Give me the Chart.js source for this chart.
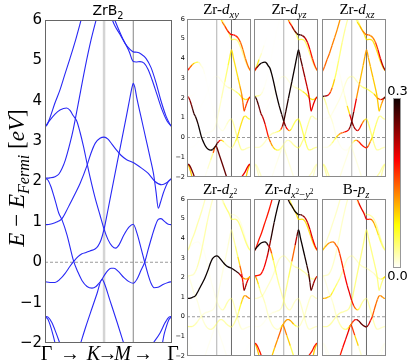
<!DOCTYPE html>
<html><head><meta charset="utf-8">
<script src="https://cdn.jsdelivr.net/npm/chart.js@4.4.1/dist/chart.umd.min.js"></script>
<style>
body{margin:0;background:#fff;}
#wrap{position:relative;width:407px;height:364px;overflow:hidden;background:#fff;}
canvas{position:absolute;}
.t{position:absolute;white-space:nowrap;color:#000;}
.serif{font-family:"Liberation Serif","DejaVu Serif",serif;}
.sans{font-family:"DejaVu Sans",sans-serif;}
.t sub,.t sup{line-height:0;font-size:70%;}
.c{transform:translateX(-50%);}
</style></head>
<body><div id="wrap">
<canvas id="cMain" width="185" height="364" style="left:0;top:0"></canvas>
<canvas id="p0" width="86" height="170" style="left:167px;top:13px"></canvas>
<canvas id="p1" width="68" height="170" style="left:252px;top:13px"></canvas>
<canvas id="p2" width="68" height="170" style="left:320px;top:13px"></canvas>
<canvas id="p3" width="86" height="169" style="left:167px;top:193px"></canvas>
<canvas id="p4" width="68" height="169" style="left:252px;top:193px"></canvas>
<canvas id="p5" width="68" height="169" style="left:320px;top:193px"></canvas>
<canvas id="cbar" width="18" height="195" style="left:388px;top:85px"></canvas>

<div class="t sans c" style="left:108px;top:3px;font-size:14px;line-height:14px">ZrB<sub>2</sub></div>
<div class="t serif" style="left:16px;top:178px;font-size:23px;line-height:23px;transform:translate(-50%,-50%) rotate(-90deg)"><i>E</i> − <i>E</i><sub><i>Fermi</i></sub> [<i>eV</i>]</div>
<div class="t serif c" style="left:46.5px;top:343px;font-size:20px;line-height:20px">Γ</div>
<div class="t serif c" style="left:70px;top:343px;font-size:20px;line-height:20px">→</div>
<div class="t serif c" style="left:93.5px;top:343px;font-size:20px;line-height:20px"><i>K</i></div>
<div class="t serif c" style="left:107.5px;top:343px;font-size:20px;line-height:20px">→</div>
<div class="t serif c" style="left:122.5px;top:343px;font-size:20px;line-height:20px"><i>M</i></div>
<div class="t serif c" style="left:143px;top:343px;font-size:20px;line-height:20px">→</div>
<div class="t serif c" style="left:173px;top:343px;font-size:20px;line-height:20px">Γ</div>

<div class="t serif c" style="left:221px;top:2.4px;font-size:15px;line-height:15px">Zr-<i>d</i><sub><i>xy</i></sub></div>
<div class="t serif c" style="left:289px;top:2.4px;font-size:15px;line-height:15px">Zr-<i>d</i><sub><i>yz</i></sub></div>
<div class="t serif c" style="left:357px;top:2.4px;font-size:15px;line-height:15px">Zr-<i>d</i><sub><i>xz</i></sub></div>
<div class="t serif c" style="left:220px;top:182.4px;font-size:15px;line-height:15px">Zr-<i>d</i><sub><i>z</i><sup>2</sup></sub></div>
<div class="t serif c" style="left:289px;top:182.4px;font-size:15px;line-height:15px">Zr-<i>d</i><sub><i>x</i><sup>2</sup>−<i>y</i><sup>2</sup></sub></div>
<div class="t serif c" style="left:356px;top:182.4px;font-size:15px;line-height:15px">B-<i>p</i><sub><i>z</i></sub></div>

<div class="t sans c" style="left:397.5px;top:83.5px;font-size:13px;line-height:13px">0.3</div>
<div class="t sans c" style="left:397.5px;top:268.5px;font-size:13px;line-height:13px">0.0</div>
</div>
<script>
// ---- path positions (fraction of path length) ----
const pathTicks = [0, 0.465, 0.695, 1];
const pathLabels = ['Γ', 'K', 'M', 'Γ'];
const yTicks = [-2, -1, 0, 1, 2, 3, 4, 5, 6];
const zeroLine = [[0, 0], [1, 0]];

// ---- bands: [k, E - E_Fermi (eV)] ----
const L1 = [[0,3.35],[0.016,3.40],[0.039,3.58],[0.079,3.95],[0.118,4.27],[0.157,4.66],[0.197,5.05],[0.236,5.45],[0.291,6.08]];
const L2 = [[0,3.35],[0.039,3.52],[0.079,3.67],[0.118,3.77],[0.171,3.82],[0.197,3.76],[0.220,3.64],[0.250,3.50],[0.276,3.22],[0.302,2.88],[0.331,2.45],[0.354,2.12],[0.394,1.60],[0.433,1.17],[0.465,0.82],[0.496,0.56],[0.528,0.40],[0.557,0.35],[0.583,0.43],[0.622,0.68],[0.661,0.87],[0.695,0.94],[0.724,0.72],[0.756,0.35],[0.785,0.00],[0.811,-0.30],[0.835,-0.52],[0.858,-0.63],[0.890,-0.62],[0.929,-0.55],[0.969,-0.50],[1,-0.48]];
const G  = [[0,2.08],[0.039,2.09],[0.079,2.12],[0.108,2.18],[0.134,2.32],[0.160,2.53],[0.197,2.95],[0.223,3.30],[0.260,3.90],[0.315,4.81],[0.362,5.50],[0.409,6.08]];
const D  = [[0,0.93],[0.039,0.94],[0.079,0.98],[0.108,1.02],[0.134,1.08],[0.165,1.25],[0.197,1.45],[0.239,1.71],[0.276,1.95],[0.331,2.40],[0.362,2.70],[0.396,2.95],[0.433,3.07],[0.465,3.10],[0.496,3.05],[0.528,2.92],[0.565,2.77],[0.598,2.65],[0.643,2.54],[0.695,2.47],[0.761,2.33],[0.813,2.20],[0.866,2.00],[0.919,1.92],[0.958,1.97],[1,2.08]];
const E  = [[0,2.08],[0.024,2.03],[0.047,1.87],[0.069,1.65],[0.087,1.45],[0.108,1.22],[0.134,1.05],[0.173,0.68],[0.226,0.02],[0.260,-0.25],[0.291,-0.45],[0.331,-0.60],[0.370,-0.64],[0.402,-0.60],[0.425,-0.52],[0.449,-0.42],[0.472,-0.30],[0.496,-0.20],[0.520,-0.15],[0.543,-0.15],[0.575,-0.22],[0.622,-0.38],[0.661,-0.48],[0.695,-0.52],[0.724,-0.42],[0.756,-0.20],[0.785,0.00],[0.811,0.30],[0.843,0.65],[0.866,0.88],[0.892,1.06],[0.913,1.08],[0.945,1.00],[0.971,0.94],[1,0.93]];
const F  = [[0,-0.48],[0.039,-0.50],[0.079,-0.50],[0.118,-0.42],[0.157,-0.28],[0.197,-0.10],[0.226,0.02],[0.260,0.14],[0.291,0.21],[0.323,0.24],[0.354,0.28],[0.394,0.33],[0.417,0.40],[0.441,0.55],[0.465,0.82],[0.496,1.30],[0.538,1.98],[0.591,2.82],[0.643,3.65],[0.669,4.08],[0.685,4.33],[0.695,4.43],[0.706,4.35],[0.724,4.05],[0.756,3.60],[0.795,3.05],[0.827,2.60],[0.854,2.20],[0.874,1.75],[0.892,1.34],[0.909,1.48],[0.931,1.71],[0.971,2.00],[1,2.08]];
const S  = [[0.276,-2.05],[0.323,-1.58],[0.370,-1.14],[0.409,-0.78],[0.449,-0.42],[0.465,-0.50],[0.512,-0.95],[0.567,-1.48],[0.624,-2.05]];
const H1 = [[0.520,6.08],[0.551,5.85],[0.591,5.64],[0.630,5.42],[0.669,5.27],[0.695,5.21],[0.724,5.20],[0.756,5.16],[0.795,5.05],[0.835,4.82],[0.874,4.45],[0.913,4.00],[0.953,3.62],[0.984,3.42],[1,3.35]];
const H2 = [[0.539,6.08],[0.575,5.80],[0.606,5.58],[0.638,5.38],[0.665,5.20],[0.685,5.02],[0.695,4.97],[0.717,4.96],[0.748,4.97],[0.780,4.93],[0.811,4.78],[0.843,4.52],[0.882,4.15],[0.921,3.78],[0.961,3.50],[1,3.35]];
const B1 = [[0,-1.34],[0.024,-1.36],[0.055,-1.50],[0.087,-1.75],[0.122,-2.05]];
const B2 = [[0,-1.34],[0.024,-1.42],[0.047,-1.62],[0.063,-1.80],[0.083,-2.05]];
const B3 = [[0.841,-2.05],[0.906,-1.75],[0.945,-1.50],[0.976,-1.36],[1,-1.34]];
const B4 = [[0.922,-2.05],[0.937,-1.80],[0.953,-1.62],[0.976,-1.42],[1,-1.34]];
const bands = [L1, L2, G, D, E, F, S, H1, H2, B1, B2, B3, B4];

// ---- orbital weights at path nodes, per band (order as in `bands`) ----
const wNodes = [0, 0.1, 0.2, 0.3, 0.4, 0.465, 0.58, 0.695, 0.8, 0.9, 1];
const wDxy = [
 [0,0,0,0,0,0,0,0,0,0,0],
 [.2,.1,.04,.01,.01,.02,.03,.05,.06,.05,.04],
 [.02,.01,0,0,0,0,0,0,0,0,0],
 [.01,.01,.01,.01,.01,.02,.03,.05,.07,.09,.1],
 [.2,.28,.3,.3,.3,.28,.04,.04,.09,.09,.07],
 [.01,.01,.01,.02,.02,.03,.05,.09,.09,.16,.18],
 [0,0,0,.02,.06,.26,.26,.26,0,0,0],
 [0,0,0,0,0,0,.15,.2,.16,.13,.15],
 [0,0,0,0,0,0,.05,.07,.06,.05,.04],
 [.25,.25,.25,.25,.25,.25,.25,.25,.25,.25,.25],
 [.1,.1,.1,.1,.1,.1,.1,.1,.1,.1,.1],
 [.2,.2,.2,.2,.2,.2,.2,.2,.2,.2,.2],
 [.1,.1,.1,.1,.1,.1,.1,.1,.1,.1,.1]];
const wDyz = [
 [.15,.04,0,0,0,0,0,0,0,0,0],
 [.18,.3,.3,.3,.3,.28,.07,.07,.07,.06,.05],
 [.08,.04,.01,.01,.01,0,0,0,0,0,0],
 [.01,.01,.01,.02,.02,.03,.03,.05,.09,.09,.09],
 [.3,.25,.18,.1,.06,.04,.05,.06,.06,.05,.04],
 [.04,.04,.04,.05,.07,.28,.3,.3,.22,.2,.2],
 [0,0,0,.02,.03,.04,.03,.03,0,0,0],
 [0,0,0,0,0,0,.2,.3,.22,.18,.15],
 [0,0,0,0,0,0,.05,.07,.07,.06,.05],
 [.04,.04,.04,.04,.04,.04,.04,.04,.04,.04,.04],
 [.04,.04,.04,.04,.04,.04,.04,.04,.04,.04,.04],
 [.04,.04,.04,.04,.04,.04,.04,.04,.04,.04,.04],
 [.04,.04,.04,.04,.04,.04,.04,.04,.04,.04,.04]];
const wDxz = [
 [.15,.14,.13,.12,.1,0,0,0,0,0,0],
 [.01,.01,.01,.02,.05,.25,.2,.07,.06,.05,.04],
 [.3,.2,.07,.06,.05,.05,0,0,0,0,0],
 [.01,.02,.03,.03,.04,.04,.05,.07,.07,.15,.3],
 [.07,.04,.03,.02,.02,.03,.18,.18,.07,.06,.05],
 [.02,.03,.07,.14,.2,.28,.1,.12,.1,.1,.15],
 [0,0,0,.03,.03,.03,.03,.03,0,0,0],
 [0,0,0,0,0,0,.1,.15,.12,.2,.25],
 [0,0,0,0,0,0,.07,.09,.09,.09,.09],
 [.05,.05,.05,.05,.05,.05,.05,.05,.05,.05,.05],
 [.05,.05,.05,.05,.05,.05,.05,.05,.05,.05,.05],
 [.05,.05,.05,.05,.05,.05,.05,.05,.05,.05,.05],
 [.05,.05,.05,.05,.05,.05,.05,.05,.05,.05,.05]];
const wDz2 = [
 [.05,.05,.05,.04,.03,0,0,0,0,0,0],
 [.02,.02,.02,.02,.02,.03,.05,.05,.04,.03,.03],
 [.04,.04,.05,.05,.04,0,0,0,0,0,0],
 [.3,.3,.3,.3,.3,.3,.3,.3,.28,.12,.1],
 [.03,.03,.03,.04,.05,.05,.05,.05,.06,.12,.14],
 [.06,.05,.04,.03,.03,.03,.03,.04,.07,.25,.15],
 [0,0,0,.02,.02,.02,.02,.02,0,0,0],
 [0,0,0,0,0,0,.03,.03,.03,.03,.03],
 [0,0,0,0,0,0,.06,.06,.06,.06,.06],
 [.01,.01,.01,.01,.01,.01,.01,.01,.01,.01,.01],
 [.01,.01,.01,.01,.01,.01,.01,.01,.01,.01,.01],
 [.01,.01,.01,.01,.01,.01,.01,.01,.01,.01,.01],
 [.01,.01,.01,.01,.01,.01,.01,.01,.01,.01,.01]];
const wDx2y2 = [
 [.18,.18,.18,.18,.18,0,0,0,0,0,0],
 [.3,.3,.3,.07,.05,.05,.04,.04,.04,.04,.04],
 [.18,.18,.2,.3,.3,.3,0,0,0,0,0],
 [.04,.04,.04,.04,.04,.04,.04,.05,.05,.05,.05],
 [.15,.05,.04,.04,.04,.12,.12,.04,.04,.04,.04],
 [.02,.02,.02,.03,.04,.05,.07,.3,.3,.26,.2],
 [0,0,0,.1,.15,.15,.07,.07,0,0,0],
 [0,0,0,0,0,.26,.3,.3,.22,.2,.18],
 [0,0,0,0,0,0,.09,.09,.09,.09,.09],
 [.18,.18,.18,.18,.18,.18,.18,.18,.18,.18,.18],
 [.1,.1,.1,.1,.1,.1,.1,.1,.1,.1,.1],
 [.18,.18,.18,.18,.18,.18,.18,.18,.18,.18,.18],
 [.1,.1,.1,.1,.1,.1,.1,.1,.1,.1,.1]];
const wBpz = [
 [.04,.04,.04,.04,.04,0,0,0,0,0,0],
 [.1,.12,.14,.17,.2,.2,.06,.05,.05,.04,.04],
 [.04,.04,.04,.04,.04,0,0,0,0,0,0],
 [.12,.1,.07,.05,.04,.04,.04,.04,.04,.05,.1],
 [.03,.03,.04,.05,.07,.15,.26,.26,.15,.13,.12],
 [.05,.05,.05,.05,.05,.06,.06,.06,.06,.06,.06],
 [0,0,0,.18,.2,.2,.04,.04,0,0,0],
 [0,0,0,0,0,0,.05,.05,.05,.05,.05],
 [0,0,0,0,0,0,.2,.2,.12,.07,.05],
 [.02,.02,.02,.02,.02,.02,.02,.02,.02,.02,.02],
 [.02,.02,.02,.02,.02,.02,.02,.02,.02,.02,.02],
 [.02,.02,.02,.02,.02,.02,.02,.02,.02,.02,.02],
 [.02,.02,.02,.02,.02,.02,.02,.02,.02,.02,.02]];
const cbarRange = [0, 0.3];
const cbarLabels = ['0.0', '0.3'];

// ---- helpers ----
const W_MAX = cbarRange[1];
function hotR(v) {
  v = Math.max(0, Math.min(1, v));
  const x = 1 - v;
  const r = x >= 0.365 ? 1 : 0.0416 + (1 - 0.0416) * x / 0.365;
  const g = x <= 0.365 ? 0 : (x >= 0.746 ? 1 : (x - 0.365) / 0.381);
  const b = x <= 0.746 ? 0 : (x - 0.746) / 0.254;
  return [Math.round(r * 255), Math.round(g * 255), Math.round(b * 255)];
}
function colorFor(w) {
  const v = Math.max(0, Math.min(1, w / W_MAX));
  const [r, g, b] = hotR(v);
  const a = Math.min(1, v * 3);
  return `rgba(${r},${g},${b},${a.toFixed(3)})`;
}
function weightAt(w, k) {
  if (k <= wNodes[0]) return w[0];
  for (let i = 0; i < wNodes.length - 1; i++) {
    if (k <= wNodes[i + 1]) {
      const t = (k - wNodes[i]) / (wNodes[i + 1] - wNodes[i]);
      return w[i] + (w[i + 1] - w[i]) * t;
    }
  }
  return w[w.length - 1];
}
const toXY = arr => arr.map(([x, y]) => ({x, y}));
const fmt = v => (v < 0 ? '\u2212' + Math.abs(v) : String(v));

const framePlugin = {
  id: 'frame',
  afterDatasetsDraw(chart, args, opts) {
    const {ctx, chartArea: a} = chart;
    ctx.save();
    ctx.strokeStyle = opts.color || '#666';
    ctx.lineWidth = 1;
    ctx.strokeRect(Math.round(a.left) + 0.5, Math.round(a.top) + 0.5, Math.round(a.right - a.left) - 1, Math.round(a.bottom - a.top) - 1);
    ctx.restore();
  }
};

function refDatasets(kColor, kWidth, mColor, mWidth) {
  return [
    {data: toXY([[pathTicks[1], yTicks[0]], [pathTicks[1], yTicks[yTicks.length - 1]]]), borderColor: kColor, borderWidth: kWidth, pointRadius: 0, order: 50},
    {data: toXY([[pathTicks[2], yTicks[0]], [pathTicks[2], yTicks[yTicks.length - 1]]]), borderColor: mColor, borderWidth: mWidth, pointRadius: 0, order: 49},
    {data: toXY(zeroLine), borderColor: '#9a9a9a', borderWidth: 1, borderDash: [3, 2], pointRadius: 0, order: 48}
  ];
}

function baseOptions(padding, yOpts, frameColor) {
  return {
    responsive: false, animation: false, events: [],
    layout: {padding},
    plugins: {legend: {display: false}, tooltip: {enabled: false}, frame: {color: frameColor}},
    scales: {
      x: {type: 'linear', min: pathTicks[0], max: pathTicks[3], display: false},
      y: Object.assign({type: 'linear', min: yTicks[0], max: yTicks[yTicks.length - 1]}, yOpts)
    }
  };
}

// ---- main band structure ----
const mainSets = bands.map(b => ({
  data: toXY(b), borderColor: 'rgb(40,40,245)', borderWidth: 1.1, pointRadius: 0,
  cubicInterpolationMode: 'monotone', fill: false, order: 0
})).concat(refDatasets('#d4d4d4', 2.5, '#858585', 1));

new Chart(document.getElementById('cMain'), {
  type: 'line',
  data: {datasets: mainSets},
  options: baseOptions({left: 0, top: 20, right: 13, bottom: 21}, {
    display: true,
    ticks: {stepSize: 1, padding: 3, color: '#000', font: {family: 'DejaVu Sans', size: 15}, callback: v => fmt(v)},
    grid: {display: false, drawTicks: false},
    border: {display: false},
    afterFit(s) { s.width = 45; }
  }, '#666'),
  plugins: [framePlugin]
});

// ---- projected panels ----
const panelWeights = [wDxy, wDyz, wDxz, wDz2, wDx2y2, wBpz];
panelWeights.forEach((wp, idx) => {
  const first = idx % 3 === 0;
  const sets = bands.map((b, i) => {
    const wts = wp[i];
    const maxW = Math.max(...wts);
    return {
      data: toXY(b), borderWidth: 1.3, pointRadius: 0, cubicInterpolationMode: 'monotone', fill: false,
      borderColor: colorFor(maxW),
      segment: {borderColor: ctx => colorFor(weightAt(wts, (ctx.p0.parsed.x + ctx.p1.parsed.x) / 2))},
      order: Math.round((0.31 - maxW) * 100)
    };
  }).concat(refDatasets('#b0b0b0', 1, '#6a6a6a', 1));
  const yOpts = first ? {
    display: true,
    ticks: {stepSize: 1, padding: 2, color: '#000', font: {family: 'DejaVu Sans', size: 6.5}, callback: v => fmt(v)},
    grid: {display: false, drawTicks: false},
    border: {display: false},
    afterFit(s) { s.width = 20; }
  } : {display: false};
  const pad = first ? {left: 0, top: 6, right: 2, bottom: 6} : {left: 2, top: 6, right: 2, bottom: 6};
  new Chart(document.getElementById('p' + idx), {
    type: 'line',
    data: {datasets: sets},
    options: baseOptions(pad, yOpts, '#8a8a8a'),
    plugins: [framePlugin]
  });
});

// ---- colorbar ----
new Chart(document.getElementById('cbar'), {
  type: 'bar',
  data: {labels: ['w'], datasets: [{
    data: [cbarRange],
    barPercentage: 1, categoryPercentage: 1, borderWidth: 0,
    backgroundColor: ctx => {
      const a = ctx.chart.chartArea;
      if (!a) return '#fff';
      const g = ctx.chart.ctx.createLinearGradient(0, a.bottom, 0, a.top);
      [0, 0.254, 0.45, 0.635, 0.8, 1].forEach(v => { const [r, gg, b] = hotR(v); g.addColorStop(v, `rgb(${r},${gg},${b})`); });
      return g;
    }
  }]},
  options: {
    responsive: false, animation: false, events: [],
    layout: {padding: {left: 5, right: 5, top: 13, bottom: 12}},
    plugins: {legend: {display: false}, tooltip: {enabled: false}, frame: {color: '#999'}},
    scales: {x: {display: false}, y: {display: false, min: cbarRange[0], max: cbarRange[1]}}
  },
  plugins: [framePlugin]
});
</script>
</body></html>
